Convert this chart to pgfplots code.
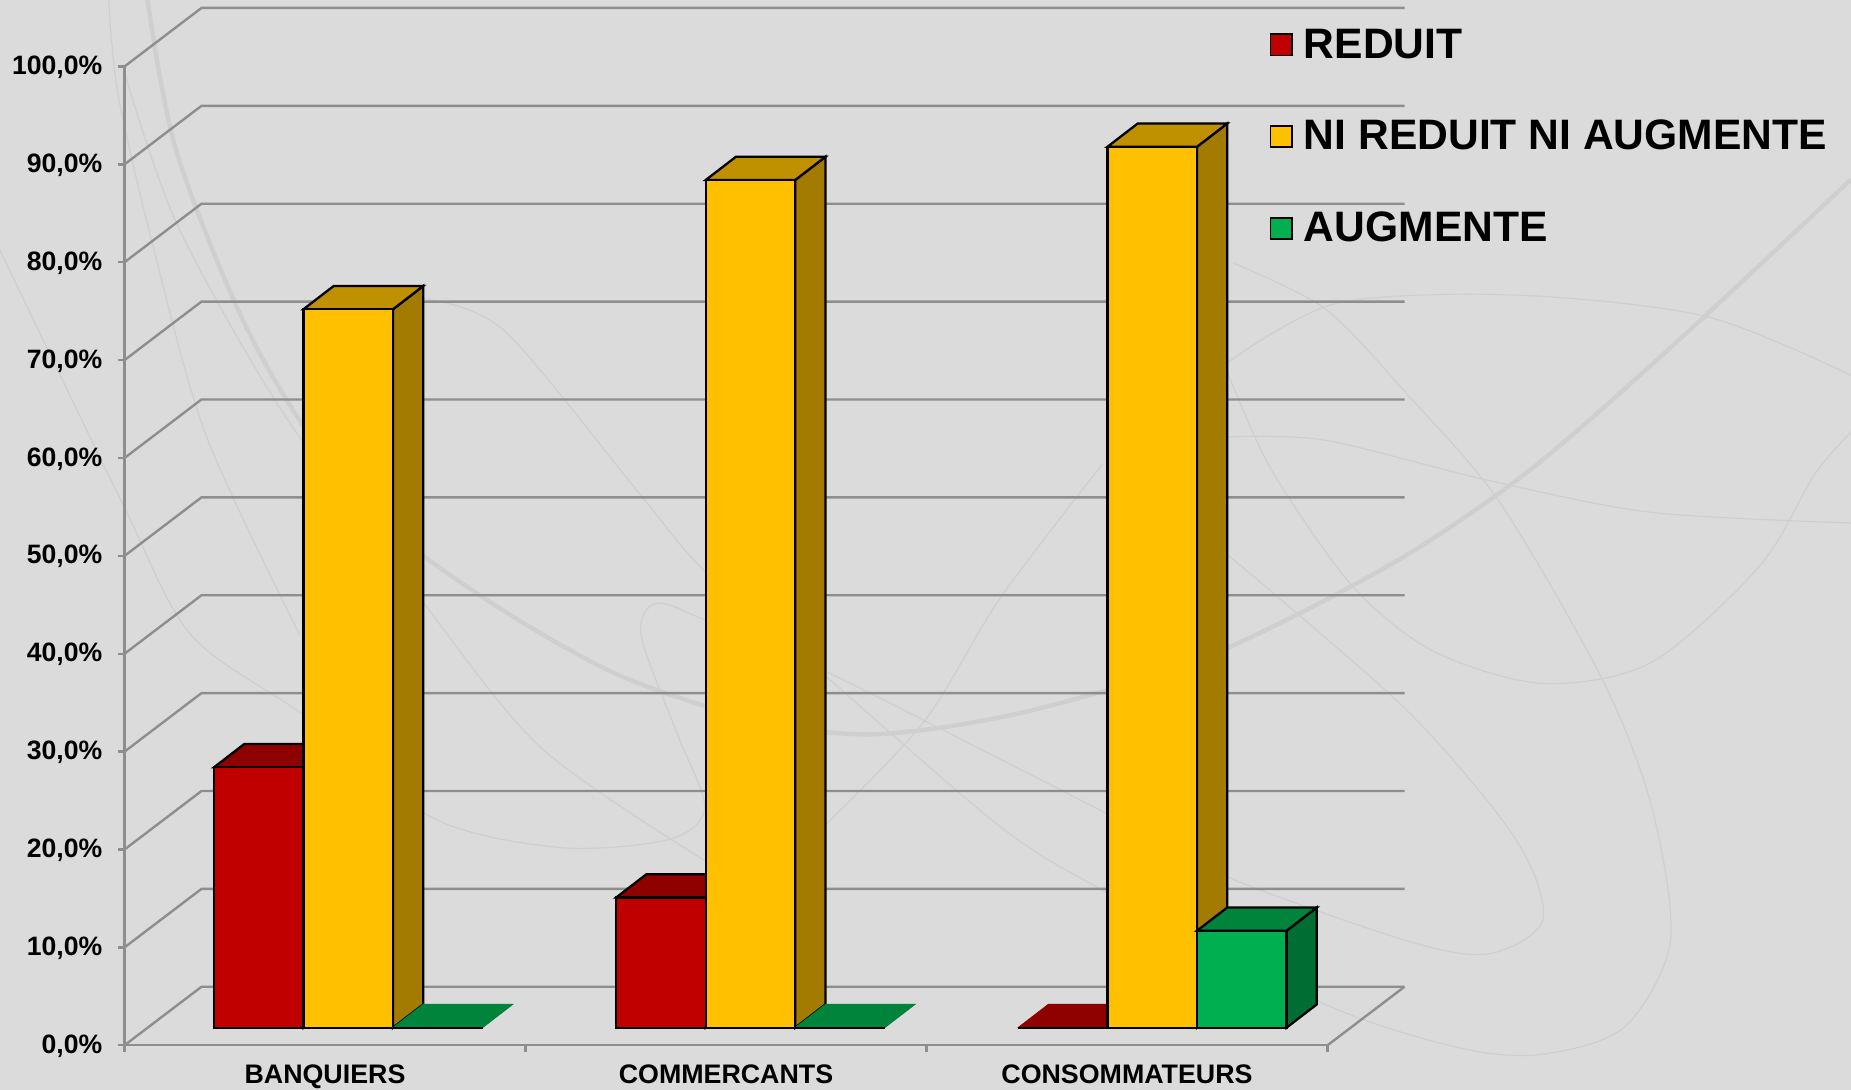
\documentclass[border=0pt]{standalone}
\usepackage{fontspec}
\setmainfont{Liberation Sans}
\usepackage{pgfplots}
\pgfplotsset{compat=1.18}
\definecolor{fond}{HTML}{DBDBDB}
\definecolor{trait}{HTML}{CFCFCF}
\definecolor{grille}{HTML}{8E8E8E}
\definecolor{rouge}{HTML}{C00000}
\definecolor{rougehaut}{HTML}{8F0000}
\definecolor{rougecote}{HTML}{7F0000}
\definecolor{jaune}{HTML}{FFC000}
\definecolor{jaunehaut}{HTML}{BF9000}
\definecolor{jaunecote}{HTML}{A37B00}
\definecolor{vert}{HTML}{00B050}
\definecolor{verthaut}{HTML}{00843C}
\definecolor{vertcote}{HTML}{006E32}

% profondeur des barres et decalage du socle, en unites d'axe
\def\largeur{0.2232}
\def\dpx{0.0755}
\def\dpy{2.38}
\def\socle{1.8}

% #1 gauche, #2 valeur, #3 face, #4 dessus, #5 cote
\newcommand{\barre}[5]{%
  \pgfmathsetmacro\xa{#1}%
  \pgfmathsetmacro\xb{#1+\largeur}%
  \pgfmathsetmacro\xc{#1+\dpx}%
  \pgfmathsetmacro\xd{#1+\largeur+\dpx}%
  \pgfmathsetmacro\ya{\socle}%
  \pgfmathsetmacro\yb{\socle+#2}%
  \pgfmathsetmacro\yc{\socle+#2+\dpy}%
  \pgfmathsetmacro\yd{\socle+\dpy}%
  \addplot[forget plot,fill=#5,draw=black,line width=1.15pt] coordinates {(\xb,\ya)(\xd,\yd)(\xd,\yc)(\xb,\yb)} --cycle;
  \addplot[forget plot,fill=#4,draw=black,line width=1.15pt] coordinates {(\xa,\yb)(\xc,\yc)(\xd,\yc)(\xb,\yb)} --cycle;
  \addplot[forget plot,fill=#3,draw=black,line width=1.15pt] coordinates {(\xa,\ya)(\xb,\ya)(\xb,\yb)(\xa,\yb)} --cycle;
}
% barre de valeur nulle : seul le dessus se voit
\newcommand{\plat}[2]{%
  \pgfmathsetmacro\xa{#1}%
  \pgfmathsetmacro\xb{#1+\largeur}%
  \pgfmathsetmacro\xc{#1+\dpx}%
  \pgfmathsetmacro\xd{#1+\largeur+\dpx}%
  \pgfmathsetmacro\ya{\socle}%
  \pgfmathsetmacro\yd{\socle+\dpy}%
  \addplot[forget plot,fill=#2,draw=#2,line width=0.4pt] coordinates {(\xa,\ya)(\xc,\yd)(\xd,\yd)(\xb,\ya)} --cycle;
  \addplot[forget plot,draw=black,line width=1.15pt] coordinates {(\xa,\ya)(\xb,\ya)};
}

\begin{document}
\begin{tikzpicture}
\fill[fond] (0,0) rectangle (925.5pt,545pt);
\path[use as bounding box] (0,0) rectangle (925.5pt,545pt);
% motif de fond
\begin{scope}[shift={(0,545pt)},x=0.59025pt,y=-0.59025pt]
\clip (0,0) rectangle (1568,923.4);
\draw[trait,line width=2.2pt] plot[smooth] coordinates {(125,0)(150,130)(215,290)(300,420)(400,500)(520,570)(640,610)(740,622)(860,605)(1000,565)(1100,520)(1200,465)(1300,395)(1420,290)(1568,152)};
\begin{scope}[trait,line width=0.6pt]
\draw plot[smooth] coordinates {(0,212)(103,425)(162,538)(259,607)(367,693)(475,718)(567,711)(597,684)(573,620)(543,538)(556,511)(597,525)(702,570)(847,643)(939,690)(1040,743)(1192,797)(1261,808)(1307,779)(1284,711)(1192,602)(1040,470)};
\draw plot[smooth] coordinates {(359,253)(427,280)(540,416)(597,484)(702,575)(847,700)(934,754)(1123,851)(1238,888)(1307,893)(1376,870)(1415,797)(1399,683)(1357,575)(1270,425)(1192,334)(1123,262)(1045,223)};
\draw plot[smooth] coordinates {(1040,307)(1132,257)(1284,250)(1445,268)(1568,318)};
\draw plot[smooth] coordinates {(1040,370)(1123,373)(1261,407)(1399,434)(1568,443)};
\draw plot[smooth] coordinates {(1040,316)(1077,398)(1146,497)(1215,552)(1307,579)(1399,561)(1491,479)(1537,402)(1568,366)};
\draw plot[smooth] coordinates {(700,698)(783,611)(847,507)(934,393)};
\draw plot[smooth] coordinates {(92,0)(100,80)(130,210)(175,370)(254,538)};
\draw plot[smooth] coordinates {(105,60)(150,190)(240,350)(359,511)(459,634)(597,729)};
\end{scope}
\end{scope}
\begin{axis}[
  at={(62.25pt,22.35pt)},anchor=south west,
  scale only axis,width=601.5pt,height=489.4pt,
  clip=false,
  xmin=0,xmax=3,ymin=0,ymax=100,
  axis lines*=left,
  axis line style={-,draw=grille,line width=1.2pt},
  tick style={draw=grille,line width=1.2pt},
  tick align=outside,major tick length=3.4pt,
  xtick={0,1,2,3},xticklabels={,,,},
  extra x ticks={0.5,1.5,2.5},
  extra x tick labels={BANQUIERS,COMMERCANTS,CONSOMMATEURS},
  extra x tick style={major tick length=0pt,
    tick label style={font=\fontsize{13.4}{16}\selectfont\bfseries,yshift=-6pt}},
  ytick={0,10,...,100},
  ymajorgrids=false,
  /pgf/number format/assume math mode=true,
  /pgf/number format/.cd,fixed,fixed zerofill,precision=1,use comma,/pgfplots/.cd,
  yticklabel={\pgfmathprintnumber{\tick}\%},
  y tick label style={font=\fontsize{13.3}{16}\selectfont\bfseries,xshift=-4.2pt,yshift=-0.4pt},
  legend style={at={(axis cs:2.855,103.9)},anchor=north west,draw=none,fill=none,
    font=\fontsize{21.3}{24}\selectfont\bfseries,
    row sep=29.6pt,inner sep=0pt,
    nodes={inner sep=0pt},
    /tikz/column 1/.style={column sep=5.5pt}},
  legend cell align=left,
  legend image code/.code={\draw[#1] (0pt,-5.3pt) rectangle (10.8pt,5.3pt);},
]
% parois : quadrillage du fond
\pgfplotsinvokeforeach{0,10,20,30,40,50,60,70,80,90,100}{
  \pgfmathsetmacro\yh{#1+5.98}
  \addplot[forget plot,draw=grille,line width=1.2pt] coordinates {(0,#1)(0.192,\yh)(3.192,\yh)};
}
\addplot[forget plot,draw=grille,line width=1.2pt] coordinates {(3,0)(3.192,5.98)};
% BANQUIERS
\barre{0.2232}{26.6}{rouge}{rougehaut}{rougecote}
\barre{0.4464}{73.4}{jaune}{jaunehaut}{jaunecote}
\plat{0.6696}{verthaut}
% COMMERCANTS
\barre{1.2262}{13.3}{rouge}{rougehaut}{rougecote}
\barre{1.4494}{86.6}{jaune}{jaunehaut}{jaunecote}
\plat{1.6726}{verthaut}
% CONSOMMATEURS
\plat{2.2282}{rougehaut}
\barre{2.4514}{90}{jaune}{jaunehaut}{jaunecote}
\barre{2.6746}{9.9}{vert}{verthaut}{vertcote}
% legende
\addlegendimage{fill=rouge,draw=black,line width=0.8pt}
\addlegendentry{REDUIT}
\addlegendimage{fill=jaune,draw=black,line width=0.8pt}
\addlegendentry{NI REDUIT NI AUGMENTE}
\addlegendimage{fill=vert,draw=black,line width=0.8pt}
\addlegendentry{AUGMENTE}
\end{axis}
\end{tikzpicture}
\end{document}
